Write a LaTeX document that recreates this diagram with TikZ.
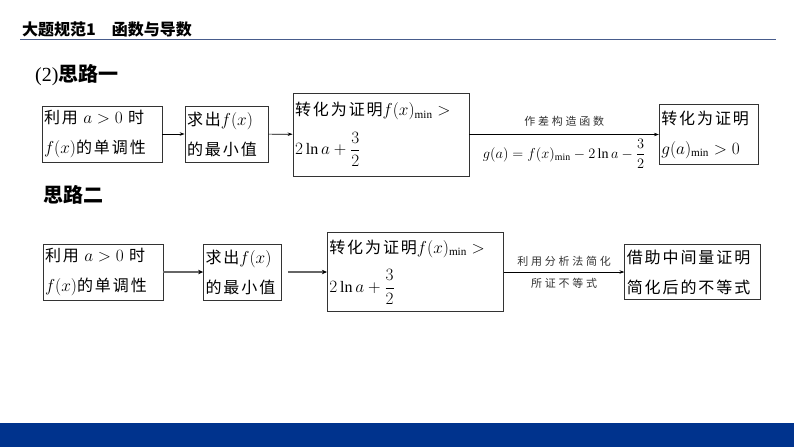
\documentclass[tikz,border=0pt]{standalone}
\usepackage{amsmath}
\usepackage{fontspec}
\setmainfont{Liberation Serif}
\newfontfamily\cjk{Noto Sans CJK SC}[LetterSpace=12]
\newfontfamily\cjkwide{Noto Sans CJK SC}[LetterSpace=25]
\newfontfamily\cjkhd{Noto Sans CJK SC}
\usetikzlibrary{arrows.meta}
\definecolor{barblue}{HTML}{00338D}
\definecolor{ruleblue}{HTML}{485C8C}
\begin{document}
\begin{tikzpicture}[x=1pt,y=-1pt,
  box/.style={draw=black!80,line width=.8pt,inner sep=2pt,align=left,
    font=\cjk\fontsize{16}{30}\selectfont},
  arr/.style={-{Stealth[length=5pt,width=3.5pt]},line width=.7pt},
  arrg/.style={-{Stealth[length=5pt,width=4.5pt,black]},line width=1.6pt,draw=black!60},
  lbl/.style={font=\cjkwide\fontsize{11}{13}\selectfont,text=black!80}]
  \useasboundingbox (0,0) rectangle (794,447);
  \fill[barblue] (0,423) rectangle (794,447);
  \draw[ruleblue,line width=1.6pt] (20,39.5) -- (776,39.5);
  \node[anchor=west,inner sep=0,font=\cjkhd\bfseries\fontsize{16}{16}\selectfont] (title) at (22,29) {大题规范1\hspace{1em}函数与导数};
  \node[anchor=west,inner sep=0] (head1) at (35,75) {\fontsize{20}{20}\selectfont(2)\cjkhd\bfseries 思路一};
  \node[anchor=west,inner sep=0] (head2) at (43,195) {\cjkhd\bfseries\fontsize{20}{20}\selectfont 思路二};

  \node[box,text width=116pt,minimum height=56pt] (a1) at (102,134) {利用 $a>0$ 时\\$f(x)$的单调性};
  \node[box,text width=79pt,minimum height=56pt] (b1) at (226.5,134) {求出$f(x)$\\的最小值};
  \node[box,text width=172pt,minimum height=83pt] (c1) at (381,134.5) {转化为证明$f(x)_{\min}>$\\[9pt]$2\ln a+\dfrac{3}{2}$};
  \node[box,text width=95pt,minimum height=60pt] (d1) at (708.8,134.5) {转化为证明\\$g(a)_{\min}>0$};
  \draw[arr] (a1) -- (b1);
  \draw[arr] (b1) -- (c1);
  \draw[arr] (c1) -- (d1) node[midway,above=4pt,lbl] {作差构造函数}
    node[midway,below=1pt,font=\fontsize{14}{16}\selectfont] {$g(a)=f(x)_{\min}-2\ln a-\dfrac{3}{2}$};

  \node[box,text width=116pt,minimum height=56pt] (a2) at (103,272) {利用 $a>0$ 时\\$f(x)$的单调性};
  \node[box,text width=74pt,minimum height=56pt] (b2) at (242.5,272) {求出$f(x)$\\的最小值};
  \node[box,text width=172pt,minimum height=79pt] (c2) at (415.3,272) {转化为证明$f(x)_{\min}>$\\[9pt]$2\ln a+\dfrac{3}{2}$};
  \node[box,text width=132pt,minimum height=55pt] (e2) at (692.8,272) {借助中间量证明\\简化后的不等式};
  \draw[arrg] (a2) -- (b2);
  \draw[arrg,shorten <=6pt] (b2) -- (c2);
  \draw[arr] (c2) -- (e2) node[midway,above=2pt,lbl] {利用分析法简化}
    node[midway,below=3pt,lbl] {所证不等式};
\end{tikzpicture}
\end{document}
